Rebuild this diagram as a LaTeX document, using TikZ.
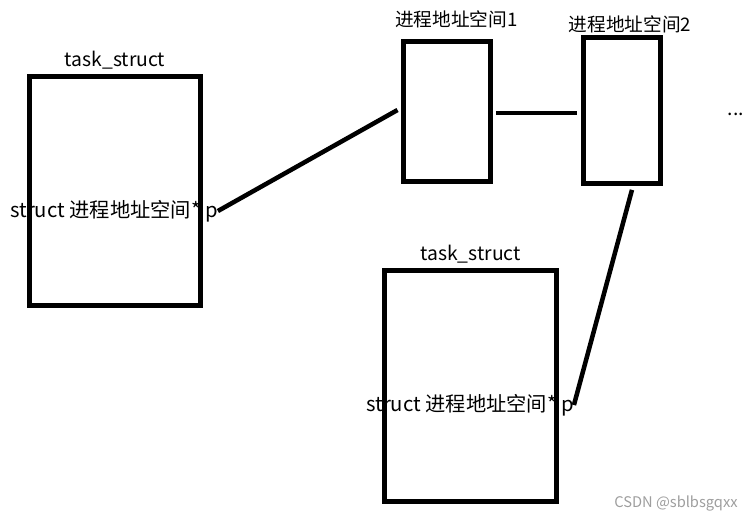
\documentclass[tikz,border=0pt]{standalone}
\usepackage{fontspec}
\setmainfont{Noto Sans CJK SC}
\usetikzlibrary{positioning}

\tikzstyle{block} = [rectangle, draw, line width=3.75pt, inner sep=0pt]
\tikzstyle{link} = [line width=3.4pt]
\tikzstyle{txt} = [font=\fontsize{14.5pt}{17pt}\selectfont, inner sep=0pt]
\tikzstyle{ptr} = [font=\fontsize{15.2pt}{18pt}\selectfont, inner sep=0pt]
\tikzstyle{cjk} = [font=\fontsize{14pt}{17pt}\selectfont, inner sep=0pt]

\begin{document}
\begin{tikzpicture}[x=0.75pt, y=-0.75pt]
\useasboundingbox (0,0) rectangle (748,519);
% task_struct boxes
\node [block, minimum width=128.25pt, minimum height=171.75pt] (tsk1) at (115,191) {};
\node [block, minimum width=129pt, minimum height=173.25pt] (tsk2) at (470.5,386) {};
% address spaces
\node [block, minimum width=65.25pt, minimum height=105pt] (as1) at (447,111.5) {};
\node [block, minimum width=57.75pt, minimum height=109.5pt] (as2) at (622,110.5) {};
\node [ptr] (ptr1) at (114,211) {struct 进程地址空间* p};
\node [ptr] (ptr2) at (470,405) {struct 进程地址空间* p};
\node [txt] (lab1) [above=3.5pt of tsk1] {task\_struct};
\node [txt] (lab2) [above=3.5pt of tsk2] {task\_struct};
\node [cjk] (lab3) [above=8pt of as1, xshift=7pt] {进程地址空间1};
\node [cjk] (lab4) [above=1.5pt of as2, xshift=6pt] {进程地址空间2};
\node [txt] (dots) at (736,114) {...};
\node [font=\fontsize{11pt}{13pt}\selectfont, text=black!38, inner sep=0pt] (mark) at (676,503) {CSDN @sblbsgqxx};
% pointers
\draw [link, shorten >=3pt] (ptr1.east) -- ([yshift=2.6pt]as1.west);
\draw [link, shorten <=2.2pt, shorten >=3pt] ([yshift=-1.1pt]as1.east) -- ([yshift=-1.1pt]as1.east -| as2.west);
\draw [link, shorten >=3pt] (ptr2.east) -- ([xshift=8.25pt]as2.south);
\end{tikzpicture}
\end{document}
